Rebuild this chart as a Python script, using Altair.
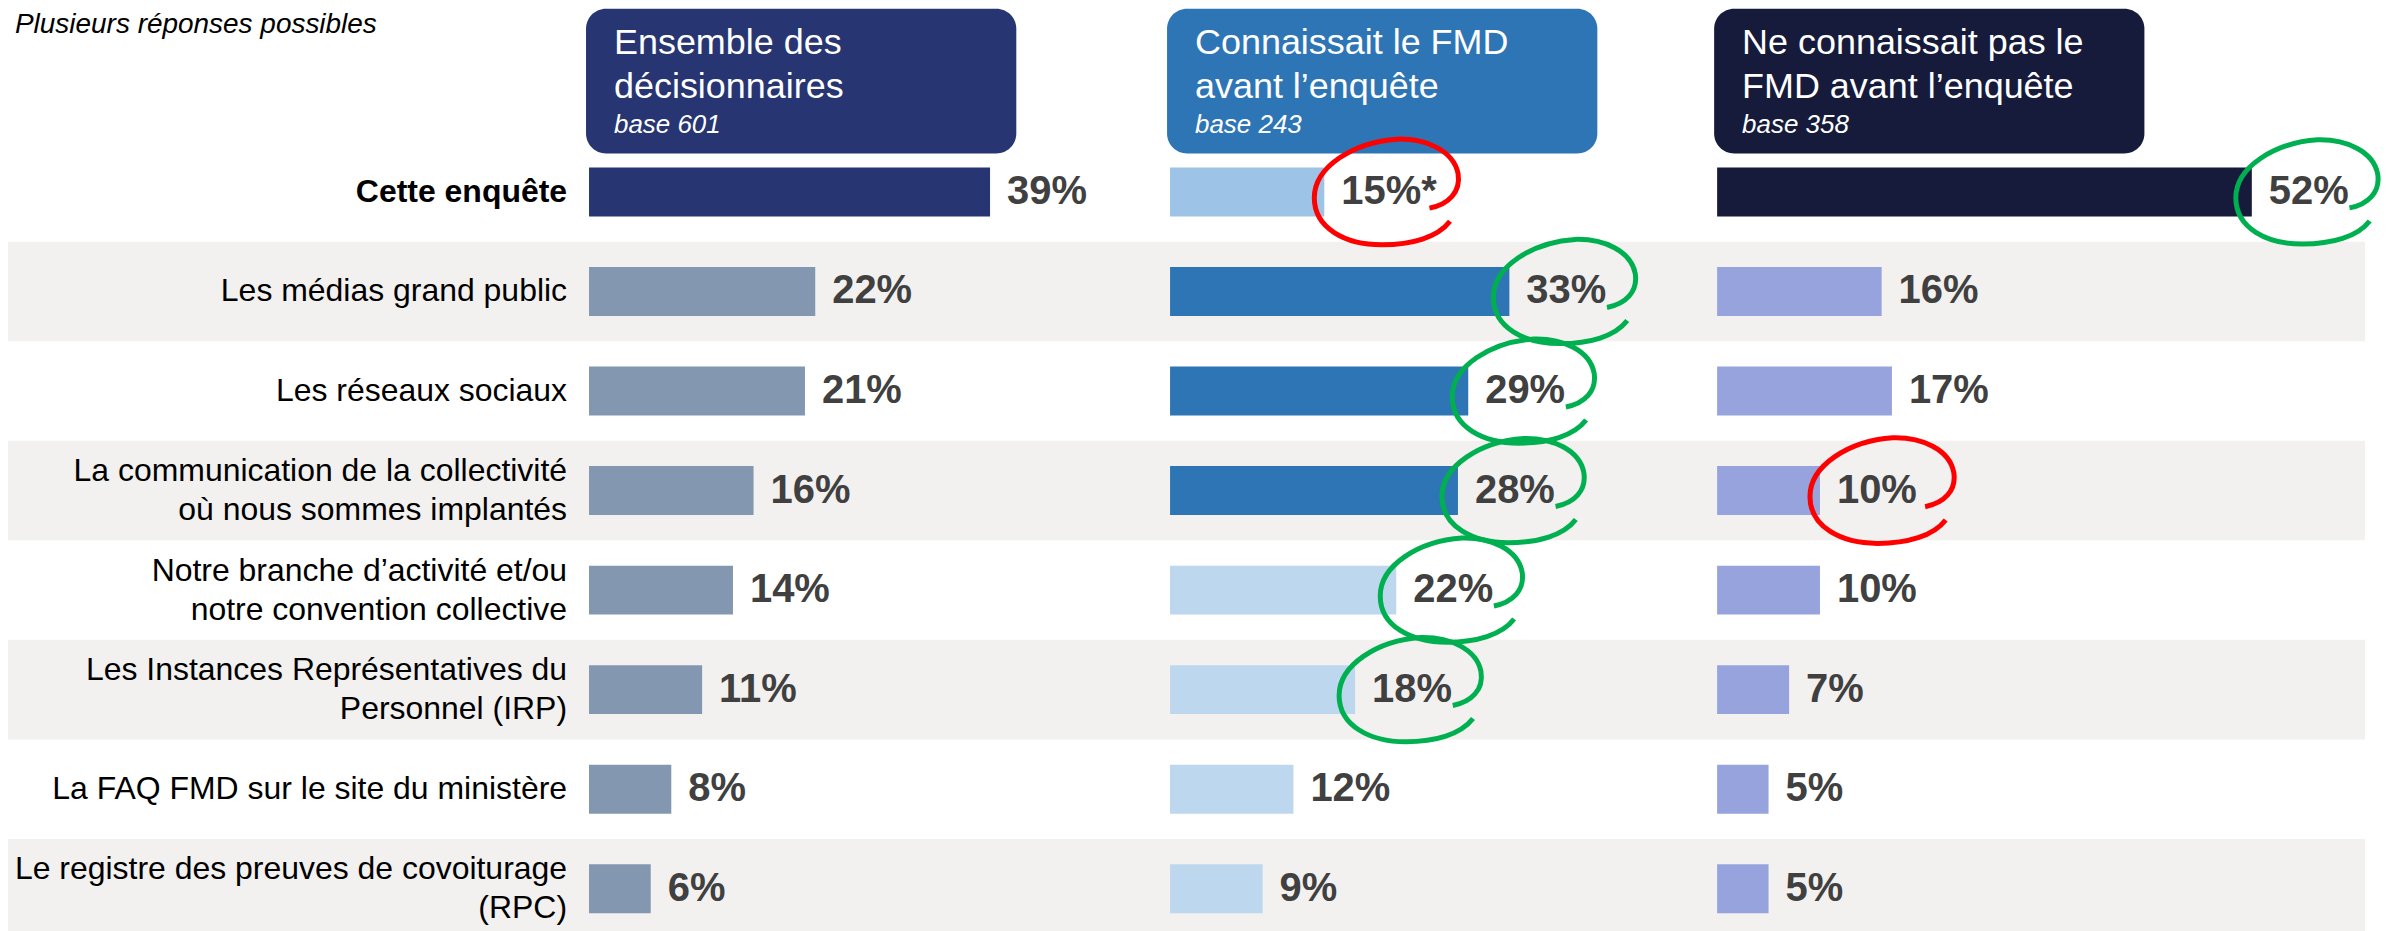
import altair as alt
import pandas as pd

FONT = "Liberation Sans"

# ---------------- data ----------------
labels = [
    "Cette enquête",
    "Les médias grand public",
    "Les réseaux sociaux",
    "La communication de la collectivité\noù nous sommes implantés",
    "Notre branche d’activité et/ou\nnotre convention collective",
    "Les Instances Représentatives du\nPersonnel (IRP)",
    "La FAQ FMD sur le site du ministère",
    "Le registre des preuves de covoiturage\n(RPC)",
]
vals_all = [39, 22, 21, 16, 14, 11, 8, 6]
vals_knew = [15, 33, 29, 28, 22, 18, 12, 9]
vals_not = [52, 16, 17, 10, 10, 7, 5, 5]

suffix_all = ["", "", "", "", "", "", "", ""]
suffix_knew = ["*", "", "", "", "", "", "", ""]
suffix_not = ["", "", "", "", "", "", "", ""]

group_all = ["total", "base", "base", "base", "base", "base", "base", "base"]
group_knew = ["total", "sup", "sup", "sup", "base", "base", "base", "base"]
group_not = ["total", "base", "base", "base", "base", "base", "base", "base"]

circle_all = ["", "", "", "", "", "", "", ""]
circle_knew = ["red", "green", "green", "green", "green", "green", "", ""]
circle_not = ["green", "", "", "red", "", "", "", ""]

head_line1 = ["Ensemble des", "Connaissait le FMD", "Ne connaissait pas le"]
head_line2 = ["décisionnaires", "avant l’enquête", "FMD avant l’enquête"]
head_base = ["base 601", "base 243", "base 358"]
note = "Plusieurs réponses possibles"

# ---------------- style / layout ----------------
PX = 10.3            # pixels per percentage point
STEP = 99.7
R0 = -11.35
BODY_H = 786
HEAD_TOP, HEAD_BOTTOM = -145, 0
W_LABEL, W1, W2, W3 = 582, 582, 548, 649
GRAY = "#F2F1EF"
HEAD_COLORS = ["#283573", "#2E75B6", "#161B3B"]
COLORS = [
    {"total": "#283573", "base": "#8497B0"},
    {"total": "#9DC3E6", "sup": "#2E75B6", "base": "#BDD7EE"},
    {"total": "#161B3B", "base": "#96A3DC"},
]
CIRCLE = ("M0.59,0.22 C0.85,0.17 1.02,0.0 0.98,-0.25 "
          "C0.92,-0.56 0.55,-0.73 0.15,-0.72 "
          "C-0.45,-0.68 -0.98,-0.34 -0.98,0.08 "
          "C-0.98,0.50 -0.55,0.72 -0.06,0.72 "
          "C0.35,0.72 0.70,0.62 0.87,0.40")
LINE_H = 39

yscale = alt.Scale(domain=list(range(8)), range=[R0, R0 + 8 * STEP],
                   paddingInner=0, paddingOuter=0)
Y = alt.Y("row:O", scale=yscale, axis=None)


def bands(df, width):
    return alt.Chart(df).transform_filter("datum.row % 2 == 1").mark_rect(
        color=GRAY).encode(y=Y, x=alt.value(0), x2=alt.value(width))


def header_layers(i):
    df = pd.DataFrame({"l1": [head_line1[i]], "l2": [head_line2[i]], "b": [head_base[i]]})
    base = alt.Chart(df)
    box = base.mark_rect(cornerRadius=20, color=HEAD_COLORS[i]).encode(
        x=alt.value(-3), x2=alt.value(428), y=alt.value(HEAD_TOP), y2=alt.value(HEAD_BOTTOM))
    common = dict(align="left", baseline="alphabetic", font=FONT, color="white")
    t1 = base.mark_text(fontSize=36, **common).encode(
        x=alt.value(25), y=alt.value(-100), text="l1:N")
    t2 = base.mark_text(fontSize=36, **common).encode(
        x=alt.value(25), y=alt.value(-56), text="l2:N")
    t3 = base.mark_text(fontSize=26, fontStyle="italic", **common).encode(
        x=alt.value(25), y=alt.value(-21), text="b:N")
    return [box, t1, t2, t3]


def label_panel():
    df = pd.DataFrame({"row": list(range(8)), "label": labels})
    common = dict(align="right", baseline="middle", font=FONT, fontSize=32,
                  lineBreak="\n", lineHeight=LINE_H, color="#000000")
    bold = alt.Chart(df).transform_filter("datum.row == 0").mark_text(
        fontWeight="bold", **common).encode(y=Y, x=alt.value(560), text="label:N")
    one = alt.Chart(df).transform_filter(
        "datum.row != 0 && indexof(datum.label, '\\n') < 0").mark_text(
        fontWeight="normal", **common).encode(y=Y, x=alt.value(560), text="label:N")
    two = alt.Chart(df).transform_filter(
        "datum.row != 0 && indexof(datum.label, '\\n') >= 0").mark_text(
        fontWeight="normal", dy=-LINE_H / 2, **common).encode(
        y=Y, x=alt.value(560), text="label:N")
    ndf = pd.DataFrame({"t": [note]})
    nt = alt.Chart(ndf).mark_text(
        align="left", baseline="alphabetic", font=FONT, fontSize=28,
        fontStyle="italic", color="#000000"
    ).encode(x=alt.value(7), y=alt.value(HEAD_TOP + 24), text="t:N")
    return alt.layer(bands(df, W_LABEL), bold, one, two, nt).properties(
        width=W_LABEL, height=BODY_H)


def data_panel(i, vals, suffix, groups, circles, cmap, width):
    df = pd.DataFrame({
        "row": list(range(8)), "v": vals, "grp": groups, "circ": circles,
        "lab": [f"{v}%{s}" for v, s in zip(vals, suffix)],
    })
    xs = alt.Scale(domain=[0, width / PX], nice=False, zero=True)
    X = alt.X("v:Q", scale=xs, axis=None)
    base = alt.Chart(df)
    bars = base.mark_bar(height=49).encode(
        y=Y, x=X,
        color=alt.Color("grp:N", scale=alt.Scale(domain=list(cmap.keys()),
                                                 range=list(cmap.values())), legend=None),
    )
    txt = base.mark_text(
        align="left", baseline="middle", dx=17, font=FONT, fontSize=40,
        fontWeight="bold", color="#404040"
    ).encode(y=Y, x=X, text="lab:N")
    green = base.transform_filter("datum.circ == 'green'").mark_point(
        shape=CIRCLE, size=21025, filled=False, strokeWidth=5,
        color="#00B050", opacity=1
    ).encode(y=Y, x=X, xOffset=alt.value(55))
    red = base.transform_filter("datum.circ == 'red'").mark_point(
        shape=CIRCLE, size=21600, filled=False, strokeWidth=5,
        color="#FF0000", opacity=1
    ).encode(y=Y, x=X, xOffset=alt.value(62))
    layers = [bands(df, width), bars, txt] + header_layers(i) + [green, red]
    return alt.layer(*layers).resolve_scale(color="independent").properties(
        width=width, height=BODY_H)


chart = alt.hconcat(
    label_panel(),
    data_panel(0, vals_all, suffix_all, group_all, circle_all, COLORS[0], W1),
    data_panel(1, vals_knew, suffix_knew, group_knew, circle_knew, COLORS[1], W2),
    data_panel(2, vals_not, suffix_not, group_not, circle_not, COLORS[2], W3),
    spacing=0, bounds="flush"
).resolve_scale(color="independent").properties(
    padding=0, background="white"
).configure_view(strokeWidth=0)

chart.save("out.html", embed_options={"renderer": "svg", "actions": False})
